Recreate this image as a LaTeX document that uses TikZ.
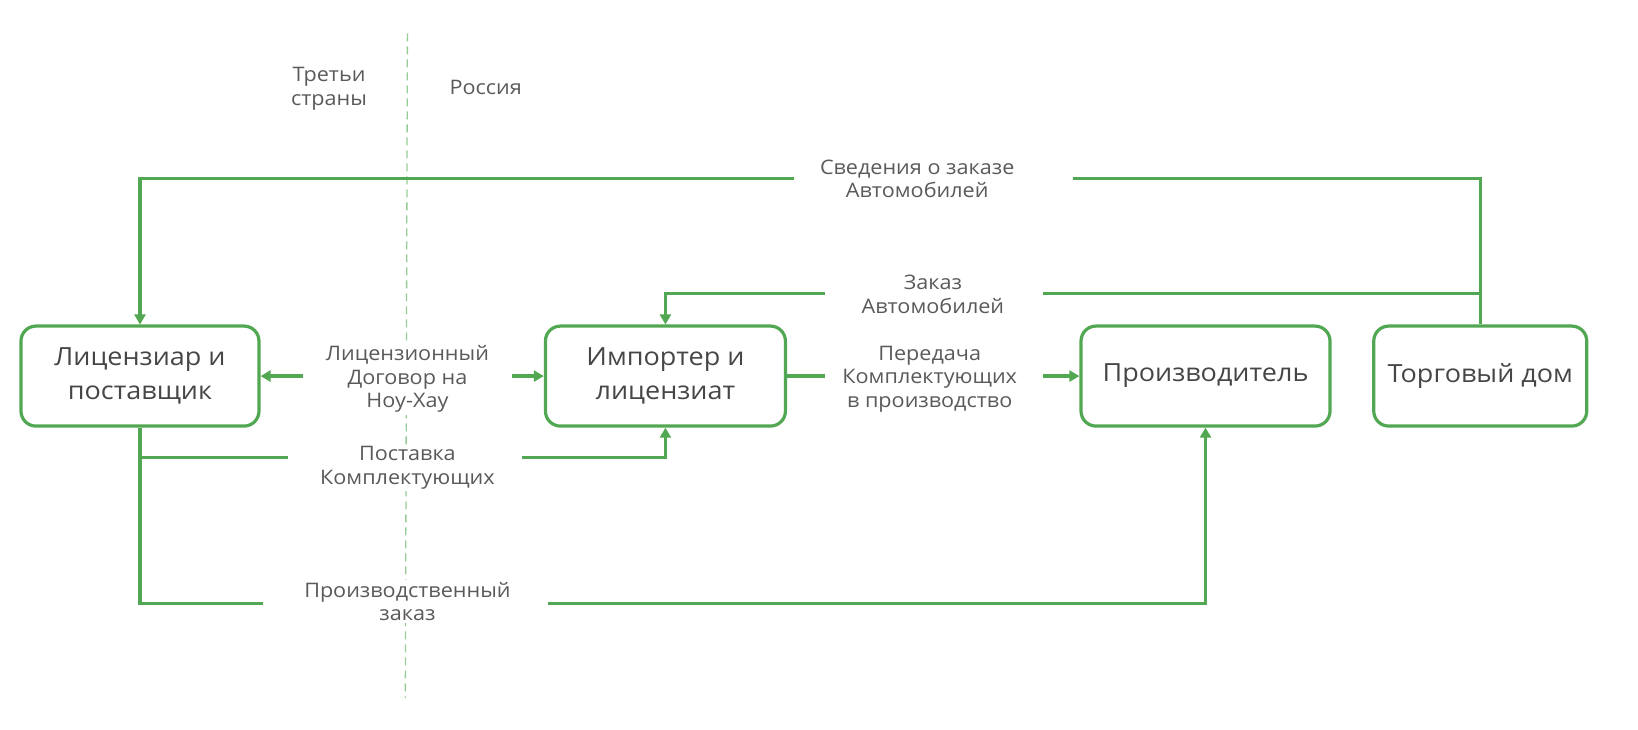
\documentclass[tikz,border=0pt]{standalone}
\usepackage{fontspec}
\setmainfont{Open Sans}[FakeStretch=1.08]
\usetikzlibrary{arrows.meta,calc}
\definecolor{grn}{RGB}{82,168,82}
\definecolor{dgrn}{RGB}{150,205,150}
\definecolor{txt}{RGB}{70,70,70}
\definecolor{ltxt}{RGB}{90,90,90}
\begin{document}
\begin{tikzpicture}[x=1.0446pt,y=-1.0446pt,
  boxst/.style={draw=grn,line width=3.2pt,rounded corners=15pt,align=center,
    text=txt,font=\fontsize{25}{33.5}\selectfont,inner sep=0pt},
  lbl/.style={align=center,text=ltxt,font=\fontsize{20}{23.5}\selectfont,fill=white,inner sep=2pt},
  conn/.style={draw=grn,line width=3.2pt},
  arr/.style={conn,-{Triangle[length=10pt,width=11pt]}},
  divider/.style={draw=dgrn,line width=1.3pt,dash pattern=on 8pt off 5pt}]
\useasboundingbox (0,0) rectangle (1568,698);
% divider
\coordinate (dvT) at (390,32);
\coordinate (dvB) at (388,668);
\draw[divider] (dvT) -- (dvB);
% boxes
\node[boxst,minimum width=238pt,minimum height=100pt] (b1) at (134,360) {Лицензиар и\\поставщик};
\node[boxst,minimum width=240pt,minimum height=100pt] (b2) at (637,360) {Импортер и\\лицензиат};
\node[boxst,minimum width=249pt,minimum height=100pt] (b3) at (1154,360) {Производитель};
\node[boxst,minimum width=213pt,minimum height=100pt] (b4) at (1417,360) {Торговый дом};
% region labels
\node[lbl,fill=none] (tr) at (315,85) {Третьи\\страны};
\node[lbl,fill=none] (ru) at (465,84) {Россия};
% connector labels
\node[lbl] (sv) at (878,171) {Сведения о заказе\\Автомобилей};
\node[lbl] (zk) at (893,282) {Заказ\\Автомобилей};
\node[lbl] (lg) at (390,363) {Лицензионный\\Договор на\\Ноу-Хау};
\node[lbl] (pd) at (890,363) {Передача\\Комплектующих\\в производство};
\node[lbl] (ps) at (390,448) {Поставка\\Комплектующих};
\node[lbl] (pr) at (390,576) {Производственный\\заказ};
% line ends
\coordinate (svL) at (760,171);
\coordinate (svR) at (1027,171);
\coordinate (zkL) at (790,281);
\coordinate (zkR) at (998,281);
\coordinate (lgL) at (290,360);
\coordinate (lgR) at (490,360);
\coordinate (pdL) at (790,360);
\coordinate (pdR) at (998,360);
\coordinate (psL) at (276,438);
\coordinate (psR) at (500,438);
\coordinate (prL) at (252,578);
\coordinate (prR) at (525,578);
% connectors
\draw[arr] (svL) -| (b1.north);
\draw[conn] (svR) -| (b4.north);
\draw[conn] (zkR) -- (zkR -| b4.north);
\draw[arr] (zkL) -| (b2.north);
\draw[arr] (lgL) -- (b1.east);
\draw[arr] (lgR) -- (b2.west);
\draw[conn] (b2.east) -- (pdL);
\draw[arr] (pdR) -- (b3.west);
\draw[conn] (b1.south) |- (prL);
\draw[conn] (b1.south |- psL) -- (psL);
\draw[arr] (psR) -| (b2.south);
\draw[arr] (prR) -| (b3.south);
\end{tikzpicture}
\end{document}
